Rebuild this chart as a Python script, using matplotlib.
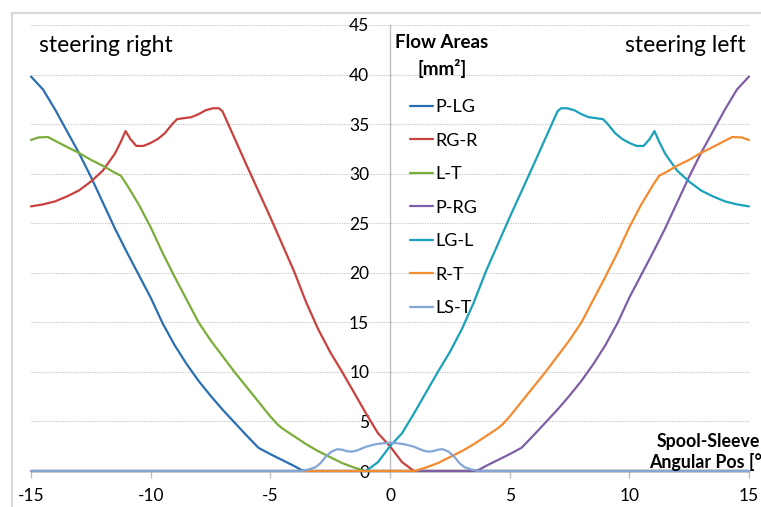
import matplotlib
matplotlib.use('Agg')
import matplotlib.pyplot as plt
from matplotlib.patches import Rectangle

plt.rcParams['font.family'] = ['Lato', 'DejaVu Sans']

# ---------------- data ----------------
x_plg = [-15, -14.5, -14, -13.5, -13, -12.5, -12, -11.5, -11, -10.5, -10, -9.5, -9, -8.5, -8,
         -7.5, -7, -6.5, -6, -5.5, -5, -4.5, -4, -3.7, -3.5, 15]
y_plg = [39.8, 38.5, 36.5, 34.3, 32.1, 29.7, 27.1, 24.5, 22.1, 19.8, 17.5, 14.9, 12.7, 10.8, 9.1,
         7.6, 6.2, 4.9, 3.6, 2.35, 1.7, 1.1, 0.5, 0.1, 0.0, 0.0]

x_rgr = [-15, -14.5, -14, -13.5, -13, -12.5, -12, -11.5, -11.25, -11.05, -10.85, -10.6, -10.3, -10.0,
         -9.7, -9.4, -9.1, -8.9, -8.6, -8.3, -8.0, -7.7, -7.4, -7.15, -7.0, -6, -5, -4, -3.5, -3,
         -2.5, -2, -1.5, -1, -0.5, 0, 0.5, 1.0, 15]
y_rgr = [26.7, 26.9, 27.2, 27.7, 28.3, 29.2, 30.3, 32.0, 33.2, 34.3, 33.5, 32.8, 32.8, 33.1,
         33.5, 34.1, 35.0, 35.5, 35.6, 35.7, 36.0, 36.4, 36.6, 36.6, 36.3, 30.9, 25.6, 20.1, 17.0, 14.3,
         12.0, 10.0, 7.9, 5.8, 3.8, 2.5, 0.9, 0.0, 0.0]

x_lt = [-15, -14.7, -14.3, -13.9, -13.5, -13, -12.5, -12, -11.5, -11.25, -11.0, -10.5, -10, -9.5,
        -9, -8.5, -8, -7.5, -7, -6.5, -6, -5.5, -5, -4.7, -4.5, -4, -3.5, -3, -2.5, -2, -1.5, -1.1, -1.0, 15]
y_lt = [33.4, 33.65, 33.7, 33.2, 32.7, 32.1, 31.4, 30.8, 30.1, 29.8, 28.9, 26.9, 24.6, 22.0,
        19.6, 17.3, 15.0, 13.2, 11.6, 10.0, 8.5, 7.0, 5.5, 4.7, 4.3, 3.5, 2.7, 2.0, 1.4, 0.8, 0.35, 0.05, 0.0, 0.0]

x_prg = [-15, 3.5, 3.7, 4, 4.5, 5, 5.5, 6, 6.5, 7, 7.5, 8, 8.5, 9, 9.5, 10, 10.5, 11, 11.5, 12,
         12.5, 13, 13.5, 14, 14.5, 15]
y_prg = [0.0, 0.0, 0.1, 0.5, 1.1, 1.7, 2.35, 3.6, 4.9, 6.2, 7.6, 9.1, 10.8, 12.7, 14.9, 17.5,
         19.8, 22.1, 24.5, 27.1, 29.7, 32.1, 34.3, 36.5, 38.5, 39.8]

x_lgl = [-15, -1.0, -0.5, 0, 0.5, 1, 1.5, 2, 2.5, 3, 3.5, 4, 5, 6, 7.0, 7.15, 7.4, 7.7, 8.0, 8.3, 8.6,
         8.9, 9.1, 9.4, 9.7, 10.0, 10.3, 10.6, 10.85, 11.05, 11.25, 11.5, 12, 12.5, 13, 13.5, 14, 14.5, 15]
y_lgl = [0.0, 0.0, 0.9, 2.5, 3.8, 5.8, 7.9, 10.0, 12.0, 14.3, 17.0, 20.1, 25.6, 30.9, 36.3, 36.6, 36.6,
         36.4, 36.0, 35.7, 35.6, 35.5, 35.0, 34.1, 33.5, 33.1, 32.8, 32.8, 33.5, 34.3, 33.2, 32.0, 30.3,
         29.2, 28.3, 27.7, 27.2, 26.9, 26.7]

x_rt = [-15, 1.0, 1.1, 1.5, 2, 2.5, 3, 3.5, 4, 4.5, 4.7, 5, 5.5, 6, 6.5, 7, 7.5, 8, 8.5, 9, 9.5,
        10, 10.5, 11.0, 11.25, 11.5, 12, 12.5, 13, 13.5, 13.9, 14.3, 14.7, 15]
y_rt = [0.0, 0.0, 0.05, 0.35, 0.8, 1.4, 2.0, 2.7, 3.5, 4.3, 4.7, 5.5, 7.0, 8.5, 10.0, 11.6, 13.2,
        15.0, 17.3, 19.6, 22.0, 24.6, 26.9, 28.9, 29.8, 30.1, 30.8, 31.4, 32.1, 32.7, 33.2, 33.7, 33.65, 33.4]

x_lst = [-15, -3.7, -3.4, -3.1, -2.9, -2.7, -2.45, -2.2, -2.0, -1.8, -1.6, -1.4, -1.0, -0.6, -0.3,
         0, 0.3, 0.6, 1.0, 1.4, 1.6, 1.8, 2.0, 2.2, 2.45, 2.7, 2.9, 3.1, 3.4, 3.7, 15]
y_lst = [0.0, 0.0, 0.15, 0.4, 0.8, 1.4, 1.95, 2.2, 2.15, 2.0, 1.95, 2.05, 2.45, 2.7, 2.8,
         2.85, 2.8, 2.7, 2.45, 2.05, 1.95, 2.0, 2.15, 2.2, 1.95, 1.4, 0.8, 0.4, 0.15, 0.0, 0.0]

series_names = ['P-LG', 'RG-R', 'L-T', 'P-RG', 'LG-L', 'R-T', 'LS-T']
series_x = [x_plg, x_rgr, x_lt, x_prg, x_lgl, x_rt, x_lst]
series_y = [y_plg, y_rgr, y_lt, y_prg, y_lgl, y_rt, y_lst]
colors = ['#2A6FB2', '#C9413D', '#7BAD3A', '#7E5EA6', '#1BA1BB', '#F58B30', '#84A6D6']

x_ticks = [-15, -10, -5, 0, 5, 10, 15]
y_ticks = [0, 5, 10, 15, 20, 25, 30, 35, 40, 45]

# ---------------- figure ----------------
W, H = 761, 507
fig = plt.figure(figsize=(W / 100, H / 100), dpi=100)

# chart-area frame (cropped on right and bottom)
fig.patches.append(Rectangle((12 / W, -0.1), 1.2, 1 - 13 / H + 0.1, transform=fig.transFigure,
                             fill=False, edgecolor='#D9D9D9', linewidth=1.6))

ax = fig.add_axes([31 / W, 36 / H, 718 / W, 446 / H])
ax.set_xlim(-15, 15)
ax.set_ylim(0, 45)
ax.patch.set_alpha(0)

for s in ['top', 'right']:
    ax.spines[s].set_visible(False)
ax.spines['left'].set_position(('data', 0))
ax.spines['bottom'].set_position(('data', 0))
ax.spines['left'].set_color('#BFBFBF')
ax.spines['bottom'].set_color('#BFBFBF')
ax.spines['left'].set_linewidth(1.0)
ax.spines['bottom'].set_linewidth(1.0)

ax.set_xticks(x_ticks)
ax.set_xticklabels([str(v) for v in x_ticks])
ax.set_yticks(y_ticks)
ax.set_yticklabels([str(v) for v in y_ticks])
ax.tick_params(axis='x', direction='out', length=5, width=1.0, color='#BFBFBF',
               labelsize=12.5, pad=7, labelcolor='#000000')
ax.tick_params(axis='y', length=0, labelsize=12.5, pad=15, labelcolor='#000000')

ax.yaxis.grid(True, color='#BFBFBF', linestyle=(0, (1, 1.2)), linewidth=0.8)
ax.set_axisbelow(True)

handles = []
for xs, ys, c, n in zip(series_x, series_y, colors, series_names):
    h, = ax.plot(xs, ys, color=c, linewidth=1.6, label=n, clip_on=False, zorder=3,
                 solid_joinstyle='round', solid_capstyle='round')
    handles.append(h)

fig.legend(handles=handles, labels=series_names, loc='upper left',
           bbox_to_anchor=(410 / W, 1 - 99 / H), frameon=False, fontsize=13,
           handlelength=1.25, handletextpad=0.15, labelspacing=0.97, borderpad=0,
           borderaxespad=0)

fig.text(442 / W, 1 - 43 / H, 'Flow Areas', fontsize=13.5, fontweight='bold',
         ha='center', va='center')
fig.text(442 / W, 1 - 68 / H, '[mm²]', fontsize=13.5, fontweight='bold',
         ha='center', va='center')

fig.text(39 / W, 1 - 46 / H, 'steering right', fontsize=16.5, ha='left', va='center')
fig.text(746 / W, 1 - 45 / H, 'steering left', fontsize=16.5, ha='right', va='center')

fig.text(708 / W, 1 - 452 / H, 'Spool-Sleeve\nAngular Pos [°]', fontsize=12.8, fontweight='bold',
         ha='center', va='center', multialignment='center', linespacing=1.2)

fig.savefig('out.png', dpi=100)
